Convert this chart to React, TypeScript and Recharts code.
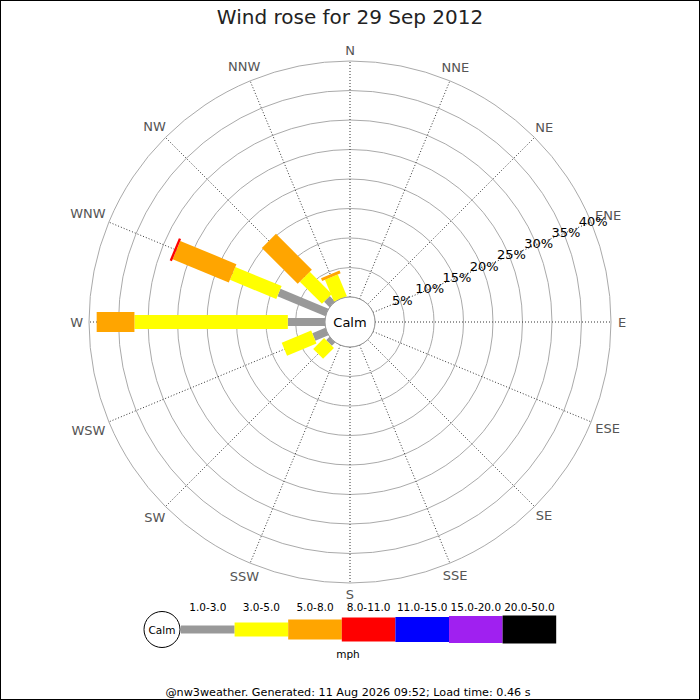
import React from "react";
import {
  RadialBarChart,
  RadialBar,
  PolarGrid,
  PolarAngleAxis,
  PolarRadiusAxis,
  Legend,
} from "recharts";

// compass points and their bearings (degrees clockwise from north)
const directions = ["N", "NNE", "NE", "ENE", "E", "ESE", "SE", "SSE", "S", "SSW", "SW", "WSW", "W", "WNW", "NW", "NNW"];
const bearings = [0, 22.5, 45, 67.5, 90, 112.5, 135, 157.5, 180, 202.5, 225, 247.5, 270, 292.5, 315, 337.5];

// % of time per direction, per speed bin (mph)
const speed1to3 = [0, 0, 0, 0, 0, 0, 0, 0, 0, 0, 0.8, 2.4, 6.3, 8.8, 1.3, 0];
const speed3to5 = [0, 0, 0, 0, 0, 0, 0, 0, 0, 0, 2.6, 5.4, 26.0, 8.5, 5.3, 4.0];
const speed5to8 = [0, 0, 0, 0, 0, 0, 0, 0, 0, 0, 0, 0, 6.4, 10.3, 8.6, 0.5];
const speed8to11 = [0, 0, 0, 0, 0, 0, 0, 0, 0, 0, 0, 0, 0, 0.4, 0, 0];
const speed11to15 = [0, 0, 0, 0, 0, 0, 0, 0, 0, 0, 0, 0, 0, 0, 0, 0];
const speed15to20 = [0, 0, 0, 0, 0, 0, 0, 0, 0, 0, 0, 0, 0, 0, 0, 0];
const speed20to50 = [0, 0, 0, 0, 0, 0, 0, 0, 0, 0, 0, 0, 0, 0, 0, 0];

const speedBins = ["1.0-3.0", "3.0-5.0", "5.0-8.0", "8.0-11.0", "11.0-15.0", "15.0-20.0", "20.0-50.0"];
const radiusTicks = [0, 5, 10, 15, 20, 25, 30, 35, 40];

const binKeys = ["s1", "s2", "s3", "s4", "s5", "s6", "s7"];
const binColors = ["#999999", "#ffff00", "#ffa500", "#ff0000", "#0000ff", "#a020f0", "#000000"];
const binThickness = [8, 14, 20, 24, 25, 27, 28];

const data = directions.map((dir, i) => ({
  dir,
  bearing: bearings[i],
  s1: speed1to3[i],
  s2: speed3to5[i],
  s3: speed5to8[i],
  s4: speed8to11[i],
  s5: speed11to15[i],
  s6: speed15to20[i],
  s7: speed20to50[i],
}));

const CX = 350;
const CY = 322;
const INNER = 25;
const OUTER = 261;
const FONT = '"DejaVu Sans", sans-serif';

// straight bar of fixed thickness along the middle of the sector
function barShape(thickness: number) {
  return (props: any) => {
    const { innerRadius, outerRadius, startAngle, endAngle, fill } = props;
    const cx = props.cx ?? CX;
    const cy = props.cy ?? CY;
    if (!(outerRadius - innerRadius > 0.05)) return <g />;
    const mid = (((startAngle + endAngle) / 2) * Math.PI) / 180;
    const ux = Math.cos(mid);
    const uy = -Math.sin(mid);
    const px = (-uy * thickness) / 2;
    const py = (ux * thickness) / 2;
    const pts = [
      [cx + ux * innerRadius + px, cy + uy * innerRadius + py],
      [cx + ux * outerRadius + px, cy + uy * outerRadius + py],
      [cx + ux * outerRadius - px, cy + uy * outerRadius - py],
      [cx + ux * innerRadius - px, cy + uy * innerRadius - py],
    ]
      .map((p) => p.join(","))
      .join(" ");
    return <polygon points={pts} fill={fill} />;
  };
}

const charW: Record<string, number> = { N: 0.748, E: 0.632, S: 0.635, W: 0.989 };

const AngleTick = (props: any) => {
  const { payload } = props;
  const label = directions[bearings.indexOf(payload.value)] ?? "";
  const deg = typeof payload.coordinate === "number" ? payload.coordinate : 90 - payload.value;
  const a = (deg * Math.PI) / 180;
  const w = label.split("").reduce((s: number, c: string) => s + (charW[c] ?? 0.7) * 13, 0);
  const r = 272 + Math.abs(Math.cos(a)) * Math.max(0, w / 2 - 5);
  return (
    <text
      x={CX + r * Math.cos(a)}
      y={CY - r * Math.sin(a)}
      textAnchor="middle"
      dominantBaseline="central"
      fontSize={13}
      fill="#555"
    >
      {label}
    </text>
  );
};

const RadiusTick = (props: any) => {
  const { payload } = props;
  if (!payload || payload.value === 0) return <g />;
  const a = (22.5 * Math.PI) / 180;
  const x = typeof props.x === "number" ? props.x : CX + payload.coordinate * Math.cos(a);
  const y = typeof props.y === "number" ? props.y : CY - payload.coordinate * Math.sin(a);
  return (
    <text x={x + 2} y={y - 1} textAnchor="middle" dominantBaseline="central" fontSize={13} fill="#000">
      {payload.value}%
    </text>
  );
};

const renderLegend = () => {
  const x0 = 181;
  const segW = 53.6;
  const midY = 39.5;
  return (
    <svg width={700} height={80} style={{ display: "block", fontFamily: FONT }}>
      <circle cx={162} cy={midY} r={18} fill="#fff" stroke="#000" />
      <text x={162} y={midY} textAnchor="middle" dominantBaseline="central" fontSize={10.5}>
        Calm
      </text>
      {speedBins.map((label, i) => (
        <g key={label}>
          <rect
            x={x0 + i * segW}
            y={midY - binThickness[i] / 2}
            width={segW}
            height={binThickness[i]}
            fill={binColors[i]}
          />
          <text x={x0 + i * segW + segW / 2} y={17} textAnchor="middle" dominantBaseline="central" fontSize={10.5}>
            {label}
          </text>
        </g>
      ))}
      <text x={348} y={64} textAnchor="middle" dominantBaseline="central" fontSize={10.5}>
        mph
      </text>
    </svg>
  );
};

export default function App() {
  return (
    <div
      style={{
        position: "absolute",
        left: 0,
        top: 0,
        width: 700,
        height: 700,
        background: "#fff",
        fontFamily: FONT,
      }}
    >
      <RadialBarChart
        width={700}
        height={700}
        data={data}
        layout="centric"
        cx={CX}
        cy={CY}
        innerRadius={INNER}
        outerRadius={OUTER}
        startAngle={90}
        endAngle={-270}
        margin={{ top: 0, right: 0, bottom: 0, left: 0 }}
      >
        <PolarGrid gridType="circle" radialLines={false} stroke="#aaa" />
        <PolarGrid gridType="circle" polarRadius={[]} stroke="#333" strokeDasharray="1 2" />
        <PolarAngleAxis
          type="number"
          dataKey="bearing"
          domain={[0, 360]}
          ticks={bearings}
          tick={AngleTick}
          tickLine={false}
          axisLine={false}
        />
        <PolarRadiusAxis
          type="number"
          domain={[0, 40]}
          ticks={radiusTicks}
          angle={22.5}
          tick={RadiusTick}
          tickLine={false}
          axisLine={false}
        />
        {binKeys.map((k, i) => (
          <RadialBar
            key={k}
            dataKey={k}
            stackId="w"
            fill={binColors[i]}
            shape={barShape(binThickness[i])}
            isAnimationActive={false}
          />
        ))}
        <Legend
          content={renderLegend}
          wrapperStyle={{ position: "absolute", left: 0, top: 590, width: 700, height: 80 }}
        />
      </RadialBarChart>
      <svg
        width={700}
        height={700}
        style={{ position: "absolute", left: 0, top: 0, pointerEvents: "none" }}
      >
        <text x={350} y={24} textAnchor="middle" fontSize={20} fill="#222">
          Wind rose for 29 Sep 2012
        </text>
        <circle cx={CX} cy={CY} r={INNER} fill="#fff" stroke="#999" />
        <text x={CX} y={CY} textAnchor="middle" dominantBaseline="central" fontSize={13} fill="#000">
          Calm
        </text>
        <text x={348} y={692} textAnchor="middle" dominantBaseline="central" fontSize={11.2} fill="#000">
          @nw3weather. Generated: 11 Aug 2026 09:52; Load time: 0.46 s
        </text>
        <rect x={0.5} y={0.5} width={699} height={699} fill="none" stroke="#000" />
      </svg>
    </div>
  );
}
